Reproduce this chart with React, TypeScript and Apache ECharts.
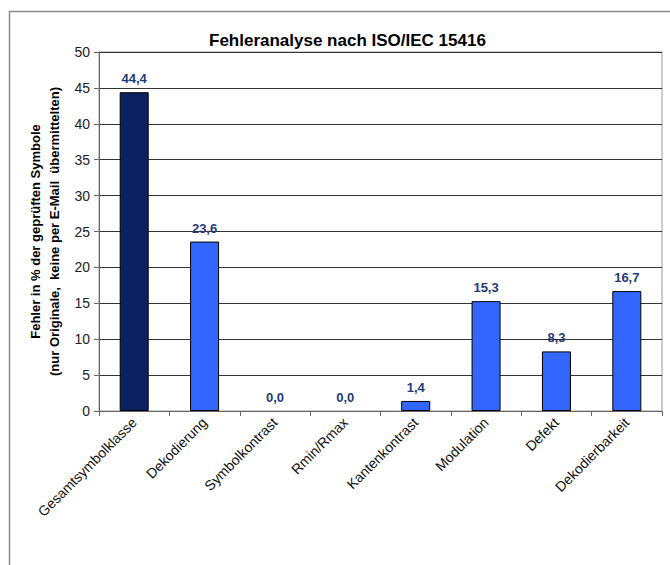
import React, { useEffect, useRef } from "react";
import * as echarts from "echarts";

const categories = [
  "Gesamtsymbolklasse",
  "Dekodierung",
  "Symbolkontrast",
  "Rmin/Rmax",
  "Kantenkontrast",
  "Modulation",
  "Defekt",
  "Dekodierbarkeit",
];
const values = [44.4, 23.6, 0.0, 0.0, 1.4, 15.3, 8.3, 16.7];
const titleText = "Fehleranalyse nach ISO/IEC 15416";
const yAxisName = "Fehler in % der geprüften Symbole\n(nur Originale,  keine per E-Mail  übermittelten)";

const FONT = "'Liberation Sans', Arial, sans-serif";

export default function App() {
  const ref = useRef<HTMLDivElement>(null);
  useEffect(() => {
    if (!ref.current) return;
    const chart = echarts.init(ref.current, undefined, { renderer: "svg" });
    chart.setOption({
      animation: false,
      backgroundColor: "#ffffff",
      textStyle: { fontFamily: FONT },
      title: {
        text: titleText,
        left: 204,
        top: 27,
        textStyle: { fontFamily: FONT, fontSize: 17, fontWeight: "bold", color: "#000" },
      },
      graphic: [
        {
          type: "rect",
          shape: { x: 9.5, y: 11.5, width: 700, height: 600 },
          style: { fill: "none", stroke: "#8c8c8c", lineWidth: 1.5 },
          silent: true,
        },
      ],
      grid: {
        left: 99,
        right: 8,
        top: 52,
        bottom: 154,
        show: true,
        borderColor: "#999",
        borderWidth: 1,
      },
      xAxis: {
        type: "category",
        data: categories,
        axisLine: { lineStyle: { color: "#666", width: 1 } },
        axisTick: { show: true, length: 5, alignWithLabel: false, lineStyle: { color: "#666" } },
        axisLabel: {
          interval: 0,
          rotate: 45,
          margin: 9,
          fontFamily: FONT,
          fontSize: 14,
          color: "#111",
        },
      },
      yAxis: {
        type: "value",
        min: 0,
        max: 50,
        interval: 5,
        name: yAxisName,
        nameLocation: "middle",
        nameRotate: 90,
        nameGap: 33,
        nameTextStyle: {
          fontFamily: FONT,
          fontSize: 13,
          fontWeight: "bold",
          color: "#000",
          lineHeight: 19,
          align: "center",
        },
        axisLine: { show: true, lineStyle: { color: "#666", width: 1 } },
        axisTick: { show: true, length: 5, lineStyle: { color: "#666" } },
        axisLabel: { fontFamily: FONT, fontSize: 14, color: "#222", margin: 9 },
        splitLine: { show: true, lineStyle: { color: "#333", width: 1 } },
      },
      series: [
        {
          type: "bar",
          data: values.map((v, i) => ({
            value: v,
            itemStyle: {
              color: i === 0 ? "#0b2160" : "#3366ff",
              borderWidth: v === 0 ? 0 : 1,
            },
          })),
          barWidth: 29,
          itemStyle: { borderColor: "#000", borderWidth: 1 },
          label: {
            show: true,
            position: "top",
            distance: 7,
            fontFamily: FONT,
            fontSize: 13,
            fontWeight: "bold",
            color: "#1f3a7a",
            formatter: (p: any) => Number(p.value).toFixed(1).replace(".", ","),
          },
        },
      ],
    });
    return () => chart.dispose();
  }, []);
  return (
    <div
      ref={ref}
      style={{ position: "absolute", left: 0, top: 0, width: 670, height: 565 }}
    />
  );
}
